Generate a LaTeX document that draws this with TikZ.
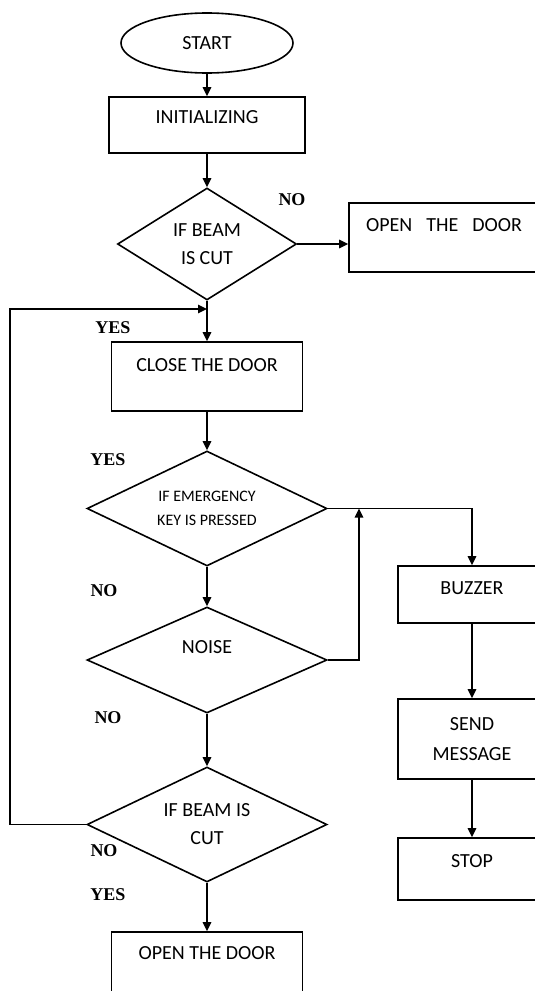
\documentclass[tikz,border=0pt]{standalone}
\usepackage{fontspec}
\setmainfont{Carlito}
\newfontfamily\lblfont{Liberation Serif}
\usetikzlibrary{shapes.geometric,arrows.meta}
\begin{document}
\begin{tikzpicture}[x=1pt,y=-1pt,
 line width=1.6pt,
 arr/.style={-{Triangle[length=9pt,width=8.5pt]}},
 box/.style={draw, rectangle, inner sep=0pt, font=\fontsize{20}{24}\selectfont},
 dec/.style={draw, diamond, inner sep=0pt, shape aspect=2, align=center},
 yn/.style={font=\lblfont\bfseries\fontsize{18}{20}\selectfont, inner sep=0pt}
]
\useasboundingbox (0,0) rectangle (535,991);
\clip (0,0) rectangle (535,991);

% main column
\node[draw, ellipse, minimum width=172pt, minimum height=60pt, inner sep=0pt,
      font=\fontsize{20}{24}\selectfont] (start) at (207,43) {START};
\node[box, minimum width=196pt, text height=26.5pt, text depth=29.5pt] (init) at (207,125) {INITIALIZING};
\node[dec, minimum width=179pt, minimum height=112pt, font=\fontsize{20}{28}\selectfont] (dec1) at (207,244) {IF BEAM\\IS CUT};
\node[box, minimum width=190pt, text height=28.5pt, text depth=40.5pt] (open1) at (444,237.5) {OPEN\hspace{14pt}THE\hspace{14pt}DOOR};
\node[box, minimum width=191pt, text height=29.5pt, text depth=39.5pt] (close) at (207,376.5) {CLOSE THE DOOR};
\node[dec, minimum width=240pt, minimum height=115pt, font=\fontsize{16}{24}\selectfont] (emerg) at (207,508.5) {IF EMERGENCY\\KEY IS PRESSED};
\node[dec, minimum width=240pt, minimum height=106pt, text height=13pt, text depth=26pt, font=\fontsize{20}{24}\selectfont] (noise) at (207,660) {NOISE};
\node[dec, minimum width=240pt, minimum height=115pt, font=\fontsize{20}{28}\selectfont] (beam2) at (207,824.5) {IF BEAM IS\\CUT};
\node[box, minimum width=191pt, text height=27.5pt, text depth=41.5pt] (open2) at (207,966.5) {OPEN THE DOOR};

% right column
\node[box, minimum width=148pt, text height=28.5pt, text depth=28.5pt] (buzz) at (472,594.5) {BUZZER};
\node[box, minimum width=148pt, minimum height=80pt, align=center, font=\fontsize{20}{30}\selectfont] (send) at (472,739) {SEND\\MESSAGE};
\node[box, minimum width=148pt, text height=29.5pt, text depth=32.5pt] (stop) at (472,869) {STOP};

% labels
\node[yn] (no1) at (292,200) {NO};
\node[yn] (yes1) at (113,328) {YES};
\node[yn] (yes2) at (108,460) {YES};
\node[yn] (no2) at (104,591) {NO};
\node[yn] (no3) at (108,718) {NO};
\node[yn] (no4) at (104,851) {NO};
\node[yn] (yes3) at (108,895) {YES};

% connectors
\coordinate (join) at (207,309);
\coordinate (merge) at (359,508.5);
\draw[arr] (start) -- (init);
\draw[arr] (init) -- (dec1);
\draw[arr] (dec1.east) -- (dec1.east -| open1.west);
\draw[arr] (dec1) -- (close);
\draw[arr] (beam2.west) -- ++(-76,0) |- (join);
\draw[arr] (close) -- (emerg);
\draw[arr] (emerg.east) -| (buzz.north);
\draw[arr] (noise.east) -| (merge);
\draw[arr] (emerg) -- (noise);
\draw[arr] (noise) -- (beam2);
\draw[arr] (beam2) -- (open2);
\draw[arr] (buzz) -- (send);
\draw[arr] (send) -- (stop);
\end{tikzpicture}
\end{document}
